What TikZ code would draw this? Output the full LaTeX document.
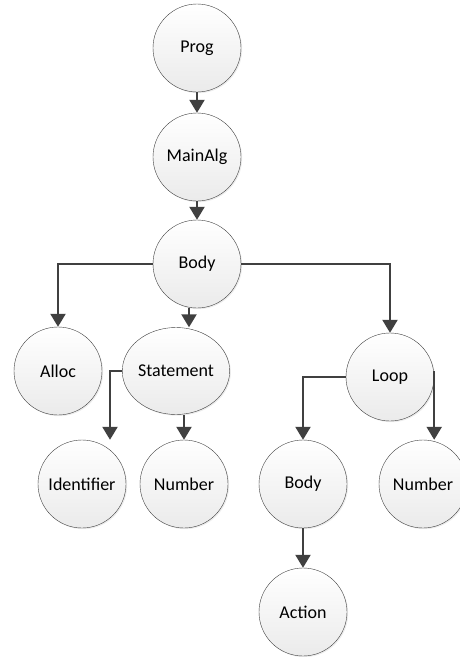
\documentclass[tikz,border=0pt]{standalone}
\usepackage{fontspec}
\setmainfont{Carlito}
\usepackage{tikz}
\usetikzlibrary{
    arrows.meta,
    shapes.geometric,
    shadows,
    positioning
}

\begin{document}
\begin{tikzpicture}[x=1pt, y=-1pt,
    every node/.style={font=\fontsize{18}{20}\selectfont},
    treenode/.style={circle, draw=black!75, thin, minimum size=88pt, inner sep=0pt,
        top color=white, bottom color=black!8,
        drop shadow={opacity=0.15, shadow xshift=1.2pt, shadow yshift=-1.2pt}},
    link/.style={draw=black!75, line width=2.3pt,
        -{Triangle[length=13pt, width=15pt]}}
]
                        \useasboundingbox (0, 0) rectangle (460, 657);
                        \node[treenode] (prog) at (197, 48) {Prog};
                        \node[treenode] (mainalg) at (197, 157) {MainAlg};
                        \node[treenode] (body) at (197, 264) {Body};
                        \node[treenode] (alloc) at (58, 371) {Alloc};
                        \node[treenode, ellipse, minimum width=102pt, minimum height=87pt] (stmt) at (176, 371) {Statement};
                        \node[treenode] (loop) at (390, 377) {Loop};
                        \node[treenode] (ident) at (82, 484) {Identifier};
                        \node[treenode] (num1) at (184, 484) {Number};
                        \node[treenode] (body2) at (303, 484) {Body};
                        \node[treenode] (num2) at (423, 484) {Number};
                        \node[treenode] (action) at (303, 612) {Action};
                        \draw[link] (prog.south) -- (mainalg.north);
                        \draw[link] (mainalg.south) -- (body.north);
                        \draw[link] (body.west) -| (alloc.north);
                        \draw[link] ([xshift=-8pt]body.south) -- ([xshift=13pt]stmt.north);
                        \draw[link] (body.east) -| (loop.north);
                        \draw[link] (stmt.west) -| ([xshift=28pt]ident.north);
                        \draw[link] (stmt.south -| num1.north) -- (num1.north);
                        \draw[link] (loop.west) -| (body2.north);
                        \draw[link] ([yshift=6pt]loop.east) -- (loop.east |- num2.north);
                        \draw[link] (body2.south) -- (action.north);
                    \end{tikzpicture}
\end{document}
